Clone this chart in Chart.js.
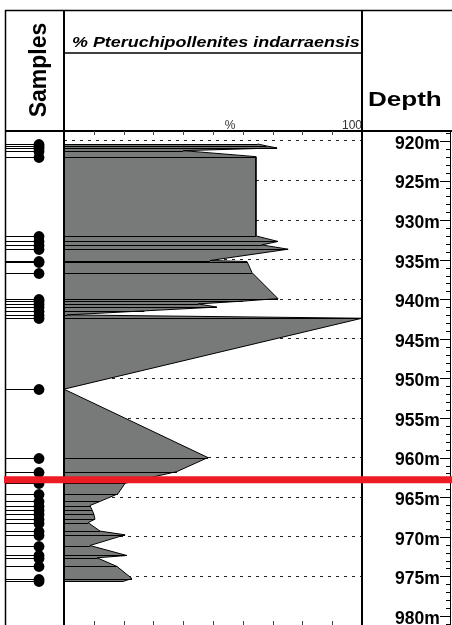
<!DOCTYPE html>
<html>
<head>
<meta charset="utf-8">
<script src="https://cdn.jsdelivr.net/npm/chart.js@4.4.1/dist/chart.umd.min.js"></script>
<style>
  html, body { margin: 0; padding: 0; background: #fff; }
  #wrap { width: 452px; height: 625px; }
</style>
</head>
<body>
<div id="wrap"><canvas id="pollenChart" width="452" height="625"></canvas></div>
<script>
// sample depths (m) and % Pteruchipollenites indarraensis
const sampleDepths = [
  920.38, 920.63, 920.88, 921.22, 921.98,
  931.99, 932.69, 933.13, 933.67, 935.10, 935.23, 936.63,
  939.91, 940.23, 940.58, 940.98, 941.46, 941.97, 942.39,
  951.35, 959.99, 961.76,
  963.24, 964.57, 965.54, 966.05, 966.59, 967.13, 967.77, 968.21,
  969.28, 969.75, 971.10, 972.36, 972.65, 973.75, 975.27, 975.64
];
const pteruchiPct = [
  65.0, 68.0, 71.5, 40.0, 64.4,
  64.4, 71.8, 66.4, 75.2, 49.0, 61.4, 63.1,
  71.8, 60.0, 45.0, 51.3, 27.0, 1.0, 100,
  0, 48.3, 37.9,
  20.5, 18.1, 12.0, 8.7, 9.4, 10.0, 10.4, 8.1,
  12.1, 20.5, 8.7, 21.1, 11.1, 17.8, 22.8, 19.8
];
const depthMin = 918.74;
const depthMax = 981.14;
const depthTickStep = 5;
const xLabelValues = [57.5, 100];
const xLabelText = ['%', '100'];
const xTickStep = 10;
const boundaryDepth = [962.8];

const FONT = "'Liberation Sans', Arial, sans-serif";

function stretchText(ctx, text, x, y, sx) {
  ctx.save();
  ctx.translate(x, y);
  ctx.scale(sx, 1);
  ctx.fillText(text, 0, 0);
  ctx.restore();
}

function hLine(ctx, x1, x2, y, w) {
  ctx.lineWidth = w;
  ctx.beginPath(); ctx.moveTo(x1, y); ctx.lineTo(x2, y); ctx.stroke();
}
function vLine(ctx, x, y1, y2, w) {
  ctx.lineWidth = w;
  ctx.beginPath(); ctx.moveTo(x, y1); ctx.lineTo(x, y2); ctx.stroke();
}

const logPlugin = {
  id: 'logPlugin',
  beforeDraw(chart) {
    const ctx = chart.ctx;
    ctx.save();
    ctx.fillStyle = '#fff';
    ctx.fillRect(0, 0, chart.width, chart.height);
    ctx.restore();
  },
  afterDatasetsDraw(chart) {
    const {ctx, scales: {x, y}} = chart;
    ctx.save();
    ctx.strokeStyle = '#000';
    ctx.fillStyle = '#000';
    ctx.lineWidth = 1;
    sampleDepths.forEach((d, i) => {
      const py = Math.round(y.getPixelForValue(d)) + 0.5;
      // line inside the curve
      ctx.beginPath();
      ctx.moveTo(x.getPixelForValue(0), py);
      ctx.lineTo(x.getPixelForValue(pteruchiPct[i]), py);
      ctx.stroke();
      // samples column
      ctx.beginPath();
      ctx.moveTo(5, py);
      ctx.lineTo(39, py);
      ctx.stroke();
      ctx.beginPath();
      ctx.arc(39, py, 5.4, 0, Math.PI * 2);
      ctx.fill();
    });
    ctx.restore();
  },
  afterDraw(chart) {
    const {ctx, chartArea: a, scales: {x, y}} = chart;
    ctx.save();
    ctx.strokeStyle = '#000';

    // frame
    hLine(ctx, 5, 452, 10.5, 1.5);
    vLine(ctx, 5.5, 10, 625, 1.5);
    vLine(ctx, a.left, 10, 625, 2);
    vLine(ctx, a.right, 10, 625, 2);
    hLine(ctx, 5, 452, a.top, 2);
    hLine(ctx, a.left, a.right, 53, 1.5);

    // % ticks top and bottom
    ctx.strokeStyle = '#444';
    for (let v = xTickStep; v < 100; v += xTickStep) {
      const px = Math.round(x.getPixelForValue(v)) + 0.5;
      vLine(ctx, px, a.top, a.top + 4, 1);
      vLine(ctx, px, a.bottom - 4, a.bottom, 1);
    }

    // depth ladder
    ctx.strokeStyle = '#000';
    vLine(ctx, 450.5, a.top, a.bottom, 1);
    for (let d = Math.ceil(depthMin); d <= Math.floor(depthMax); d++) {
      const py = Math.round(y.getPixelForValue(d)) + 0.5;
      const major = d % depthTickStep === 0;
      hLine(ctx, major ? 440 : 446, 451, py, 1);
    }

    // header texts
    ctx.fillStyle = '#000';
    ctx.textAlign = 'left';
    ctx.textBaseline = 'alphabetic';
    ctx.font = 'italic bold 14px ' + FONT;
    stretchText(ctx, '% Pteruchipollenites indarraensis', 72, 47, 1.28);
    ctx.font = 'bold 21px ' + FONT;
    stretchText(ctx, 'Depth', 368, 106, 1.24);

    ctx.save();
    ctx.translate(46, 70);
    ctx.rotate(-Math.PI / 2);
    ctx.textAlign = 'center';
    ctx.font = 'bold 23px ' + FONT;
    ctx.fillText('Samples', 0, 0);
    ctx.restore();

    // red boundary
    ctx.strokeStyle = '#ed1c24';
    boundaryDepth.forEach(d => {
      hLine(ctx, 4, 452, y.getPixelForValue(d), 7);
    });
    ctx.restore();
  }
};

new Chart(document.getElementById('pollenChart'), {
  type: 'line',
  data: {
    datasets: [{
      label: '% Pteruchipollenites indarraensis',
      data: sampleDepths.map((d, i) => ({ x: pteruchiPct[i], y: d })),
      borderColor: '#000',
      borderWidth: 1,
      backgroundColor: '#787a79',
      fill: 'origin',
      pointRadius: 0,
      tension: 0
    }]
  },
  options: {
    indexAxis: 'y',
    responsive: false,
    maintainAspectRatio: false,
    animation: false,
    devicePixelRatio: 1,
    layout: { autoPadding: false, padding: { left: 64, top: 111, right: 0, bottom: 0 } },
    plugins: { legend: { display: false }, tooltip: { enabled: false } },
    scales: {
      x: {
        type: 'linear',
        position: 'top',
        min: 0,
        max: 100,
        afterFit(s) { s.height = 20; s.paddingLeft = 0; s.paddingRight = 0; },
        afterBuildTicks(s) { s.ticks = xLabelValues.map(v => ({ value: v })); },
        grid: { display: false, drawTicks: false },
        border: { display: false },
        ticks: {
          callback: (v, i) => xLabelText[i],
          align: 'end',
          padding: -2,
          autoSkip: false,
          maxRotation: 0,
          color: '#333',
          font: { family: FONT, size: 12 }
        }
      },
      y: {
        type: 'linear',
        position: 'right',
        reverse: true,
        min: depthMin,
        max: depthMax,
        afterFit(s) { s.width = 90; s.paddingTop = 0; s.paddingBottom = 0; },
        border: { display: false, dash: [3, 5] },
        grid: {
          drawTicks: false,
          lineWidth: 1,
          color: c => (c.tick && c.tick.value >= 980) ? 'rgba(0,0,0,0)' : '#222'
        },
        ticks: {
          stepSize: depthTickStep,
          includeBounds: false,
          callback: v => v + 'm',
          crossAlign: 'near',
          padding: 33,
          labelOffset: 3,
          color: '#000',
          font: { family: FONT, size: 17.5, weight: 'bold' }
        }
      }
    }
  },
  plugins: [logPlugin]
});
</script>
</body>
</html>
